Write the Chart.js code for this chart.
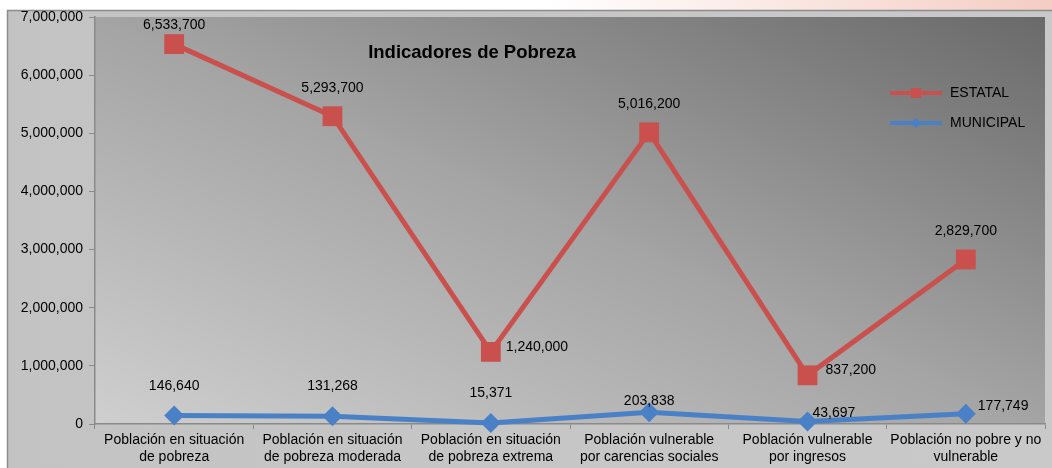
<!DOCTYPE html>
<html>
<head>
<meta charset="utf-8">
<script src="https://cdn.jsdelivr.net/npm/chart.js@4.4.0/dist/chart.umd.min.js"></script>
<style>
  html, body { margin: 0; padding: 0; background: #fff; overflow: hidden; }
  #wrap { width: 1052px; height: 468px; }
  canvas { display: block; }
</style>
</head>
<body>
<div id="wrap"><canvas id="povChart" width="1052" height="468"></canvas></div>
<script>
// categories and series
var categories = [
  ['Población en situación', 'de pobreza'],
  ['Población en situación', 'de pobreza moderada'],
  ['Población en situación', 'de pobreza extrema'],
  ['Población vulnerable', 'por carencias sociales'],
  ['Población vulnerable', 'por ingresos'],
  ['Población no pobre y no', 'vulnerable']
];
var estatal = [6533700, 5293700, 1240000, 5016200, 837200, 2829700];
var municipal = [146640, 131268, 15371, 203838, 43697, 177749];
var yTickValues = [0, 1000000, 2000000, 3000000, 4000000, 5000000, 6000000, 7000000];

var FONT = '"Liberation Sans", Arial, sans-serif';
var RED = '#c9504c';
var BLUE = '#4a80c6';

// where each value label sits relative to its point (dx, dy, align)
var labelSpots = [
  [[0, -19, 'center'], [0, -28, 'center'], [15, -5, 'left'], [0, -28, 'center'], [18, -5, 'left'], [0, -28, 'center']],
  [[0, -29, 'center'], [0, -30, 'center'], [0, -30, 'center'], [0, -11, 'center'], [5, -8, 'left'], [12, -8, 'left']]
];

function fmt(v) {
  return v.toLocaleString('en-US');
}

var backdrop = {
  id: 'backdrop',
  beforeDraw: function(chart) {
    var ctx = chart.ctx, a = chart.chartArea;
    var W = chart.width, H = chart.height;
    ctx.save();
    ctx.fillStyle = '#fff';
    ctx.fillRect(0, 0, W, H);
    var g = ctx.createLinearGradient(550, 0, W, 0);
    g.addColorStop(0, '#ffffff');
    g.addColorStop(1, '#f4cdc3');
    ctx.fillStyle = g;
    ctx.fillRect(0, 0, W, 10);
    // outer chart box
    var og = ctx.createLinearGradient(7, 0, W, 0);
    og.addColorStop(0, '#c3c3c3');
    og.addColorStop(1, '#c9c9c9');
    ctx.fillStyle = og;
    ctx.fillRect(7, 10, W - 7, H - 10);
    ctx.strokeStyle = '#8c8c8c';
    ctx.lineWidth = 1.5;
    ctx.beginPath();
    ctx.moveTo(7.5, H);
    ctx.lineTo(7.5, 10.5);
    ctx.lineTo(W, 10.5);
    ctx.stroke();
    // plot area, diagonal gradient in box-relative space
    ctx.translate(a.left, a.top);
    ctx.scale(a.right - a.left, a.bottom - a.top);
    var pg = ctx.createLinearGradient(0, 1, 1, 0);
    pg.addColorStop(0, '#cfcfcf');
    pg.addColorStop(0.5, '#a4a4a4');
    pg.addColorStop(1, '#6a6a6a');
    ctx.fillStyle = pg;
    ctx.fillRect(0, 0, 1, 1);
    ctx.restore();
  },
  afterDraw: function(chart) {
    var ctx = chart.ctx;
    ctx.save();
    // value labels
    ctx.font = '14px ' + FONT;
    ctx.fillStyle = '#000';
    ctx.textBaseline = 'middle';
    chart.data.datasets.forEach(function(ds, di) {
      var meta = chart.getDatasetMeta(di);
      meta.data.forEach(function(pt, i) {
        var s = labelSpots[di][i];
        ctx.textAlign = s[2];
        ctx.fillText(fmt(ds.data[i]), pt.x + s[0], pt.y + s[1]);
      });
    });
    // title
    ctx.font = 'bold 18.5px ' + FONT;
    ctx.textAlign = 'center';
    ctx.fillText('Indicadores de Pobreza', 472, 53);
    // legend
    var items = [['ESTATAL', RED, 'rect', 93], ['MUNICIPAL', BLUE, 'rectRot', 123]];
    ctx.font = '14px ' + FONT;
    ctx.textAlign = 'left';
    items.forEach(function(it) {
      ctx.strokeStyle = it[1];
      ctx.lineWidth = 4;
      ctx.beginPath();
      ctx.moveTo(890, it[3]);
      ctx.lineTo(942, it[3]);
      ctx.stroke();
      ctx.fillStyle = it[1];
      Chart.helpers.drawPoint(ctx, { pointStyle: it[2], radius: it[2] === 'rect' ? 7 : 5, borderWidth: 0 }, 916, it[3]);
      ctx.fill();
      ctx.fillStyle = '#000';
      ctx.fillText(it[0], 950, it[3]);
    });
    ctx.restore();
  }
};

new Chart(document.getElementById('povChart'), {
  type: 'line',
  data: {
    labels: categories,
    datasets: [{
      label: 'ESTATAL',
      data: estatal,
      borderColor: RED,
      backgroundColor: RED,
      borderWidth: 5,
      pointStyle: 'rect',
      pointRadius: 14,
      pointBorderWidth: 0,
      tension: 0,
      fill: false
    }, {
      label: 'MUNICIPAL',
      data: municipal,
      borderColor: BLUE,
      backgroundColor: BLUE,
      borderWidth: 5,
      pointStyle: 'rectRot',
      pointRadius: 10,
      pointBorderWidth: 0,
      tension: 0,
      fill: false
    }]
  },
  options: {
    responsive: false,
    animation: false,
    devicePixelRatio: 1,
    clip: false,
    layout: { autoPadding: false, padding: { left: 0, top: 17, right: 7, bottom: 0 } },
    plugins: {
      legend: { display: false },
      tooltip: { enabled: false }
    },
    scales: {
      x: {
        offset: true,
        afterFit: function(s) { s.height = 44; s.paddingLeft = 0; s.paddingRight = 0; },
        grid: { drawOnChartArea: false, tickLength: 5, color: '#8a8a8a', offset: true },
        border: { color: '#8a8a8a', width: 1.5 },
        ticks: { color: '#000', font: { family: FONT, size: 14 }, padding: 3, maxRotation: 0, autoSkip: false }
      },
      y: {
        min: 0,
        max: 7000000,
        afterFit: function(s) { s.width = 95; s.paddingTop = 0; s.paddingBottom = 0; },
        afterBuildTicks: function(s) { s.ticks = yTickValues.map(function(v) { return { value: v }; }); },
        grid: { drawOnChartArea: false, tickLength: 6, color: '#8a8a8a' },
        border: { color: '#8a8a8a', width: 1.5 },
        ticks: {
          color: '#000',
          font: { family: FONT, size: 14 },
          padding: 6,
          callback: function(v) { return fmt(v); }
        }
      }
    }
  },
  plugins: [backdrop]
});
</script>
</body>
</html>
